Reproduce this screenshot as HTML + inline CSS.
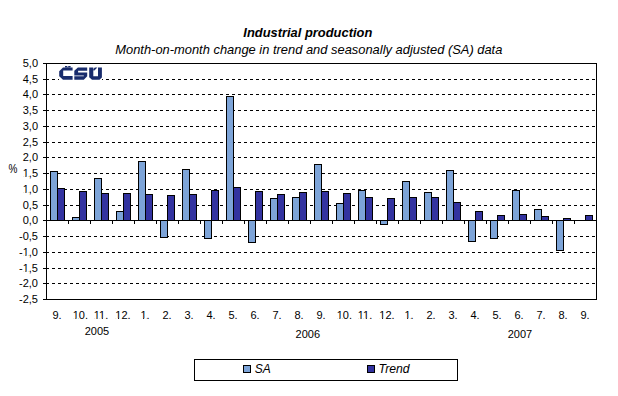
<!DOCTYPE html>
<html><head><meta charset="utf-8"><style>
html,body{margin:0;padding:0;background:#fff;width:618px;height:396px;overflow:hidden}
svg{display:block}
text{font-family:"Liberation Sans", sans-serif;fill:#000}
</style></head><body>
<svg width="618" height="396" viewBox="0 0 618 396" shape-rendering="crispEdges">
<rect x="0" y="0" width="618" height="396" fill="#fff"/>
<line x1="46" y1="79.5" x2="596" y2="79.5" stroke="#000" stroke-width="1" stroke-dasharray="3 3"/>
<line x1="46" y1="94.5" x2="596" y2="94.5" stroke="#000" stroke-width="1" stroke-dasharray="3 3"/>
<line x1="46" y1="110.5" x2="596" y2="110.5" stroke="#000" stroke-width="1" stroke-dasharray="3 3"/>
<line x1="46" y1="126.5" x2="596" y2="126.5" stroke="#000" stroke-width="1" stroke-dasharray="3 3"/>
<line x1="46" y1="142.5" x2="596" y2="142.5" stroke="#000" stroke-width="1" stroke-dasharray="3 3"/>
<line x1="46" y1="157.5" x2="596" y2="157.5" stroke="#000" stroke-width="1" stroke-dasharray="3 3"/>
<line x1="46" y1="173.5" x2="596" y2="173.5" stroke="#000" stroke-width="1" stroke-dasharray="3 3"/>
<line x1="46" y1="189.5" x2="596" y2="189.5" stroke="#000" stroke-width="1" stroke-dasharray="3 3"/>
<line x1="46" y1="205.5" x2="596" y2="205.5" stroke="#000" stroke-width="1" stroke-dasharray="3 3"/>
<line x1="46" y1="236.5" x2="596" y2="236.5" stroke="#000" stroke-width="1" stroke-dasharray="3 3"/>
<line x1="46" y1="252.5" x2="596" y2="252.5" stroke="#000" stroke-width="1" stroke-dasharray="3 3"/>
<line x1="46" y1="268.5" x2="596" y2="268.5" stroke="#000" stroke-width="1" stroke-dasharray="3 3"/>
<line x1="46" y1="283.5" x2="596" y2="283.5" stroke="#000" stroke-width="1" stroke-dasharray="3 3"/>
<rect x="50" y="171" width="8" height="50" fill="#000"/><rect x="51" y="172" width="6" height="48" fill="#7DA4D8"/>
<rect x="57" y="188" width="8" height="33" fill="#000"/><rect x="58" y="189" width="6" height="31" fill="#3333A0"/>
<rect x="72" y="217" width="8" height="4" fill="#000"/><rect x="73" y="218" width="6" height="2" fill="#7DA4D8"/>
<rect x="79" y="191" width="8" height="30" fill="#000"/><rect x="80" y="192" width="6" height="28" fill="#3333A0"/>
<rect x="94" y="178" width="8" height="43" fill="#000"/><rect x="95" y="179" width="6" height="41" fill="#7DA4D8"/>
<rect x="101" y="193" width="8" height="28" fill="#000"/><rect x="102" y="194" width="6" height="26" fill="#3333A0"/>
<rect x="116" y="211" width="8" height="10" fill="#000"/><rect x="117" y="212" width="6" height="8" fill="#7DA4D8"/>
<rect x="123" y="193" width="8" height="28" fill="#000"/><rect x="124" y="194" width="6" height="26" fill="#3333A0"/>
<rect x="138" y="161" width="8" height="60" fill="#000"/><rect x="139" y="162" width="6" height="58" fill="#7DA4D8"/>
<rect x="145" y="194" width="8" height="27" fill="#000"/><rect x="146" y="195" width="6" height="25" fill="#3333A0"/>
<rect x="160" y="220" width="8" height="18" fill="#000"/><rect x="161" y="221" width="6" height="16" fill="#7DA4D8"/>
<rect x="167" y="195" width="8" height="26" fill="#000"/><rect x="168" y="196" width="6" height="24" fill="#3333A0"/>
<rect x="182" y="169" width="8" height="52" fill="#000"/><rect x="183" y="170" width="6" height="50" fill="#7DA4D8"/>
<rect x="189" y="194" width="8" height="27" fill="#000"/><rect x="190" y="195" width="6" height="25" fill="#3333A0"/>
<rect x="204" y="220" width="8" height="19" fill="#000"/><rect x="205" y="221" width="6" height="17" fill="#7DA4D8"/>
<rect x="211" y="190" width="8" height="31" fill="#000"/><rect x="212" y="191" width="6" height="29" fill="#3333A0"/>
<rect x="226" y="96" width="8" height="125" fill="#000"/><rect x="227" y="97" width="6" height="123" fill="#7DA4D8"/>
<rect x="233" y="187" width="8" height="34" fill="#000"/><rect x="234" y="188" width="6" height="32" fill="#3333A0"/>
<rect x="248" y="220" width="8" height="23" fill="#000"/><rect x="249" y="221" width="6" height="21" fill="#7DA4D8"/>
<rect x="255" y="191" width="8" height="30" fill="#000"/><rect x="256" y="192" width="6" height="28" fill="#3333A0"/>
<rect x="270" y="198" width="8" height="23" fill="#000"/><rect x="271" y="199" width="6" height="21" fill="#7DA4D8"/>
<rect x="277" y="194" width="8" height="27" fill="#000"/><rect x="278" y="195" width="6" height="25" fill="#3333A0"/>
<rect x="292" y="197" width="8" height="24" fill="#000"/><rect x="293" y="198" width="6" height="22" fill="#7DA4D8"/>
<rect x="299" y="192" width="8" height="29" fill="#000"/><rect x="300" y="193" width="6" height="27" fill="#3333A0"/>
<rect x="314" y="164" width="8" height="57" fill="#000"/><rect x="315" y="165" width="6" height="55" fill="#7DA4D8"/>
<rect x="321" y="191" width="8" height="30" fill="#000"/><rect x="322" y="192" width="6" height="28" fill="#3333A0"/>
<rect x="336" y="203" width="8" height="18" fill="#000"/><rect x="337" y="204" width="6" height="16" fill="#7DA4D8"/>
<rect x="343" y="193" width="8" height="28" fill="#000"/><rect x="344" y="194" width="6" height="26" fill="#3333A0"/>
<rect x="358" y="190" width="8" height="31" fill="#000"/><rect x="359" y="191" width="6" height="29" fill="#7DA4D8"/>
<rect x="365" y="197" width="8" height="24" fill="#000"/><rect x="366" y="198" width="6" height="22" fill="#3333A0"/>
<rect x="380" y="220" width="8" height="5" fill="#000"/><rect x="381" y="221" width="6" height="3" fill="#7DA4D8"/>
<rect x="387" y="198" width="8" height="23" fill="#000"/><rect x="388" y="199" width="6" height="21" fill="#3333A0"/>
<rect x="402" y="181" width="8" height="40" fill="#000"/><rect x="403" y="182" width="6" height="38" fill="#7DA4D8"/>
<rect x="409" y="197" width="8" height="24" fill="#000"/><rect x="410" y="198" width="6" height="22" fill="#3333A0"/>
<rect x="424" y="192" width="8" height="29" fill="#000"/><rect x="425" y="193" width="6" height="27" fill="#7DA4D8"/>
<rect x="431" y="197" width="8" height="24" fill="#000"/><rect x="432" y="198" width="6" height="22" fill="#3333A0"/>
<rect x="446" y="170" width="8" height="51" fill="#000"/><rect x="447" y="171" width="6" height="49" fill="#7DA4D8"/>
<rect x="453" y="202" width="8" height="19" fill="#000"/><rect x="454" y="203" width="6" height="17" fill="#3333A0"/>
<rect x="468" y="220" width="8" height="22" fill="#000"/><rect x="469" y="221" width="6" height="20" fill="#7DA4D8"/>
<rect x="475" y="211" width="8" height="10" fill="#000"/><rect x="476" y="212" width="6" height="8" fill="#3333A0"/>
<rect x="490" y="220" width="8" height="19" fill="#000"/><rect x="491" y="221" width="6" height="17" fill="#7DA4D8"/>
<rect x="497" y="215" width="8" height="6" fill="#000"/><rect x="498" y="216" width="6" height="4" fill="#3333A0"/>
<rect x="512" y="190" width="8" height="31" fill="#000"/><rect x="513" y="191" width="6" height="29" fill="#7DA4D8"/>
<rect x="519" y="214" width="8" height="7" fill="#000"/><rect x="520" y="215" width="6" height="5" fill="#3333A0"/>
<rect x="534" y="209" width="8" height="12" fill="#000"/><rect x="535" y="210" width="6" height="10" fill="#7DA4D8"/>
<rect x="541" y="216" width="8" height="5" fill="#000"/><rect x="542" y="217" width="6" height="3" fill="#3333A0"/>
<rect x="556" y="220" width="8" height="31" fill="#000"/><rect x="557" y="221" width="6" height="29" fill="#7DA4D8"/>
<rect x="563" y="218" width="8" height="3" fill="#000"/><rect x="564" y="219" width="6" height="1" fill="#3333A0"/>
<rect x="585" y="215" width="8" height="6" fill="#000"/><rect x="586" y="216" width="6" height="4" fill="#3333A0"/>
<rect x="46" y="220" width="551" height="1" fill="#000"/>
<rect x="68" y="221" width="1" height="3" fill="#000"/>
<rect x="90" y="221" width="1" height="3" fill="#000"/>
<rect x="112" y="221" width="1" height="3" fill="#000"/>
<rect x="134" y="221" width="1" height="3" fill="#000"/>
<rect x="156" y="221" width="1" height="3" fill="#000"/>
<rect x="178" y="221" width="1" height="3" fill="#000"/>
<rect x="200" y="221" width="1" height="3" fill="#000"/>
<rect x="222" y="221" width="1" height="3" fill="#000"/>
<rect x="244" y="221" width="1" height="3" fill="#000"/>
<rect x="266" y="221" width="1" height="3" fill="#000"/>
<rect x="288" y="221" width="1" height="3" fill="#000"/>
<rect x="310" y="221" width="1" height="3" fill="#000"/>
<rect x="332" y="221" width="1" height="3" fill="#000"/>
<rect x="354" y="221" width="1" height="3" fill="#000"/>
<rect x="376" y="221" width="1" height="3" fill="#000"/>
<rect x="398" y="221" width="1" height="3" fill="#000"/>
<rect x="420" y="221" width="1" height="3" fill="#000"/>
<rect x="442" y="221" width="1" height="3" fill="#000"/>
<rect x="464" y="221" width="1" height="3" fill="#000"/>
<rect x="486" y="221" width="1" height="3" fill="#000"/>
<rect x="508" y="221" width="1" height="3" fill="#000"/>
<rect x="530" y="221" width="1" height="3" fill="#000"/>
<rect x="552" y="221" width="1" height="3" fill="#000"/>
<rect x="574" y="221" width="1" height="3" fill="#000"/>
<rect x="46" y="63" width="551" height="1" fill="#000"/>
<rect x="46" y="299" width="551" height="1" fill="#000"/>
<rect x="46" y="63" width="1" height="237" fill="#000"/>
<rect x="596" y="63" width="1" height="237" fill="#000"/>
<rect x="43" y="63" width="3" height="1" fill="#000"/>
<rect x="43" y="79" width="3" height="1" fill="#000"/>
<rect x="43" y="94" width="3" height="1" fill="#000"/>
<rect x="43" y="110" width="3" height="1" fill="#000"/>
<rect x="43" y="126" width="3" height="1" fill="#000"/>
<rect x="43" y="142" width="3" height="1" fill="#000"/>
<rect x="43" y="157" width="3" height="1" fill="#000"/>
<rect x="43" y="173" width="3" height="1" fill="#000"/>
<rect x="43" y="189" width="3" height="1" fill="#000"/>
<rect x="43" y="205" width="3" height="1" fill="#000"/>
<rect x="43" y="220" width="3" height="1" fill="#000"/>
<rect x="43" y="236" width="3" height="1" fill="#000"/>
<rect x="43" y="252" width="3" height="1" fill="#000"/>
<rect x="43" y="268" width="3" height="1" fill="#000"/>
<rect x="43" y="283" width="3" height="1" fill="#000"/>
<rect x="43" y="299" width="3" height="1" fill="#000"/>
<g shape-rendering="geometricPrecision">
<rect x="59" y="64" width="43" height="16" fill="#fff" shape-rendering="crispEdges"/>
<path fill="#192C6C" d="M63,67.5 L72.6,67.5 L72.6,70.6 L63.2,70.6 L63.2,76 L72.6,76 L72.6,79.8 L63,79.8 L59.2,76.2 L59.2,71.2 Z"/>
<path fill="#192C6C" d="M65,66 L66.9,66 L67.8,67 L68.6,66 L70.6,66 L70.6,67.6 L65,67.6 Z"/>
<path fill="#192C6C" d="M77.9,67.4 L87.2,67.4 L87.2,70.8 L78.1,70.8 L78.1,72.4 L87.2,72.4 L87.2,76.3 L83.8,79.8 L74.3,79.8 L74.3,76.3 L83.8,76.3 L83.8,75.5 L74.3,75.5 L74.3,70.8 Z"/>
<path fill="#192C6C" d="M89.2,67.4 L93.3,67.4 L93.3,76.3 L98,76.3 L98,67.4 L101.9,67.4 L101.9,77.4 L99.5,79.8 L92,79.8 L89.2,77.2 Z"/>
<path fill="#192C6C" d="M94.8,67.4 L97.4,67.4 L94.4,70.4 L93.3,70.4 L93.3,69 Z"/>
</g>
<g shape-rendering="auto">
<text transform="translate(307.8,37) scale(1,1.04)" x="0" y="0" text-anchor="middle" font-size="12.9" font-weight="bold" font-style="italic">Industrial production</text>
<text transform="translate(308.8,54) scale(1,1.04)" x="0" y="0" text-anchor="middle" font-size="12.9" font-style="italic">Month-on-month change in trend and seasonally adjusted (SA) data</text>
<text x="38" y="67" text-anchor="end" font-size="11">5,0</text>
<text x="38" y="83" text-anchor="end" font-size="11">4,5</text>
<text x="38" y="98" text-anchor="end" font-size="11">4,0</text>
<text x="38" y="114" text-anchor="end" font-size="11">3,5</text>
<text x="38" y="130" text-anchor="end" font-size="11">3,0</text>
<text x="38" y="146" text-anchor="end" font-size="11">2,5</text>
<text x="38" y="161" text-anchor="end" font-size="11">2,0</text>
<text x="38" y="177" text-anchor="end" font-size="11">1,5</text>
<text x="38" y="193" text-anchor="end" font-size="11">1,0</text>
<text x="38" y="209" text-anchor="end" font-size="11">0,5</text>
<text x="38" y="224" text-anchor="end" font-size="11">0,0</text>
<text x="38" y="240" text-anchor="end" font-size="11">-0,5</text>
<text x="38" y="256" text-anchor="end" font-size="11">-1,0</text>
<text x="38" y="272" text-anchor="end" font-size="11">-1,5</text>
<text x="38" y="287" text-anchor="end" font-size="11">-2,0</text>
<text x="38" y="303" text-anchor="end" font-size="11">-2,5</text>
<text transform="translate(13.05,173) scale(1,1.22)" x="0" y="0" text-anchor="middle" font-size="10">%</text>
<text x="57" y="319" text-anchor="middle" font-size="11">9.</text>
<text x="80.3" y="319" text-anchor="middle" font-size="11">10.</text>
<text x="101" y="319" text-anchor="middle" font-size="11">11.</text>
<text x="123" y="319" text-anchor="middle" font-size="11">12.</text>
<text x="145" y="319" text-anchor="middle" font-size="11">1.</text>
<text x="167" y="319" text-anchor="middle" font-size="11">2.</text>
<text x="189" y="319" text-anchor="middle" font-size="11">3.</text>
<text x="211" y="319" text-anchor="middle" font-size="11">4.</text>
<text x="233" y="319" text-anchor="middle" font-size="11">5.</text>
<text x="255" y="319" text-anchor="middle" font-size="11">6.</text>
<text x="277" y="319" text-anchor="middle" font-size="11">7.</text>
<text x="299" y="319" text-anchor="middle" font-size="11">8.</text>
<text x="321" y="319" text-anchor="middle" font-size="11">9.</text>
<text x="344.3" y="319" text-anchor="middle" font-size="11">10.</text>
<text x="365" y="319" text-anchor="middle" font-size="11">11.</text>
<text x="387" y="319" text-anchor="middle" font-size="11">12.</text>
<text x="409" y="319" text-anchor="middle" font-size="11">1.</text>
<text x="431" y="319" text-anchor="middle" font-size="11">2.</text>
<text x="453" y="319" text-anchor="middle" font-size="11">3.</text>
<text x="475" y="319" text-anchor="middle" font-size="11">4.</text>
<text x="497" y="319" text-anchor="middle" font-size="11">5.</text>
<text x="519" y="319" text-anchor="middle" font-size="11">6.</text>
<text x="541" y="319" text-anchor="middle" font-size="11">7.</text>
<text x="563" y="319" text-anchor="middle" font-size="11">8.</text>
<text x="585" y="319" text-anchor="middle" font-size="11">9.</text>
<text x="96.9" y="335" text-anchor="middle" font-size="11">2005</text>
<text x="307.8" y="337.8" text-anchor="middle" font-size="11">2006</text>
<text x="519.9" y="337.8" text-anchor="middle" font-size="11">2007</text>
<rect x="194" y="359" width="264" height="1" fill="#000"/><rect x="194" y="380" width="264" height="1" fill="#000"/><rect x="194" y="359" width="1" height="22" fill="#000"/><rect x="457" y="359" width="1" height="22" fill="#000"/>
<rect x="243" y="365" width="8" height="8" fill="#000"/><rect x="244" y="366" width="6" height="6" fill="#7DA4D8"/>
<rect x="367" y="365" width="8" height="8" fill="#000"/><rect x="368" y="366" width="6" height="6" fill="#3333A0"/>
<text x="254.7" y="372.8" font-size="12" font-style="italic">SA</text>
<text x="378.6" y="373" font-size="12.2" font-style="italic">Trend</text>
<rect x="23.24" y="176.03" width="2.23" height="1.22" fill="#fff"/>
<rect x="26.44" y="176.03" width="2.17" height="1.22" fill="#fff"/>
<rect x="23.24" y="192.03" width="2.23" height="1.22" fill="#fff"/>
<rect x="26.44" y="192.03" width="2.17" height="1.22" fill="#fff"/>
<rect x="23.22" y="255.03" width="2.23" height="1.22" fill="#fff"/>
<rect x="26.43" y="255.03" width="2.17" height="1.22" fill="#fff"/>
<rect x="23.22" y="271.03" width="2.23" height="1.22" fill="#fff"/>
<rect x="26.43" y="271.03" width="2.17" height="1.22" fill="#fff"/>
<rect x="73.19" y="318.03" width="2.23" height="1.22" fill="#fff"/>
<rect x="76.39" y="318.03" width="2.17" height="1.22" fill="#fff"/>
<rect x="94.29" y="318.03" width="2.23" height="1.22" fill="#fff"/>
<rect x="97.50" y="318.03" width="2.17" height="1.22" fill="#fff"/>
<rect x="99.59" y="318.03" width="2.23" height="1.22" fill="#fff"/>
<rect x="102.79" y="318.03" width="2.17" height="1.22" fill="#fff"/>
<rect x="115.89" y="318.03" width="2.23" height="1.22" fill="#fff"/>
<rect x="119.09" y="318.03" width="2.17" height="1.22" fill="#fff"/>
<rect x="140.94" y="318.03" width="2.23" height="1.22" fill="#fff"/>
<rect x="144.14" y="318.03" width="2.17" height="1.22" fill="#fff"/>
<rect x="337.19" y="318.03" width="2.23" height="1.22" fill="#fff"/>
<rect x="340.39" y="318.03" width="2.17" height="1.22" fill="#fff"/>
<rect x="358.29" y="318.03" width="2.23" height="1.22" fill="#fff"/>
<rect x="361.50" y="318.03" width="2.17" height="1.22" fill="#fff"/>
<rect x="363.59" y="318.03" width="2.23" height="1.22" fill="#fff"/>
<rect x="366.79" y="318.03" width="2.17" height="1.22" fill="#fff"/>
<rect x="379.89" y="318.03" width="2.23" height="1.22" fill="#fff"/>
<rect x="383.09" y="318.03" width="2.17" height="1.22" fill="#fff"/>
<rect x="404.94" y="318.03" width="2.23" height="1.22" fill="#fff"/>
<rect x="408.14" y="318.03" width="2.17" height="1.22" fill="#fff"/>
</g>
</svg>
</body></html>
